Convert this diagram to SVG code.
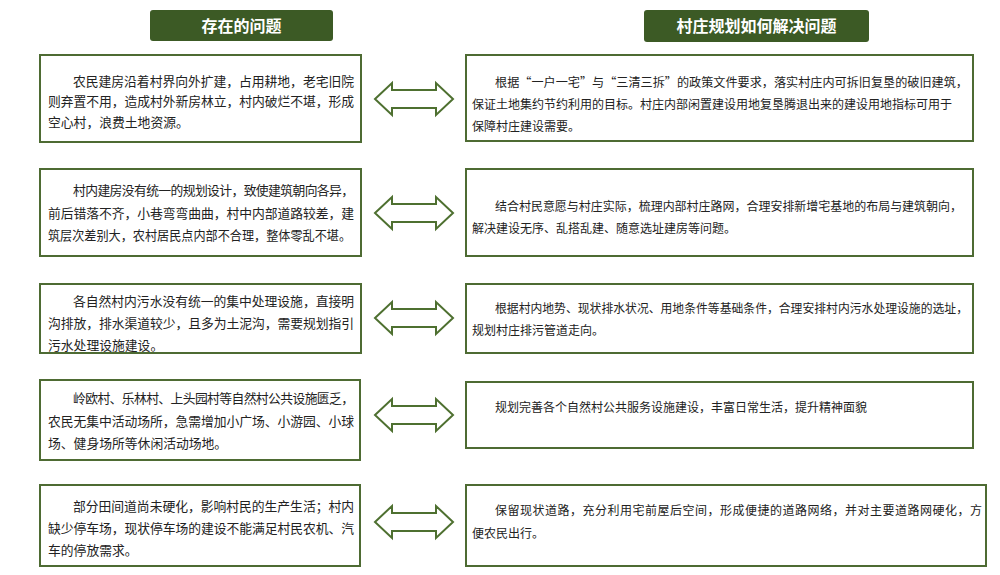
<svg xmlns="http://www.w3.org/2000/svg" xmlns:xlink="http://www.w3.org/1999/xlink" width="1000" height="575" viewBox="0 0 1000 575">
<style>
.hdr{fill:#3c5a25}
.htxt{fill:#ffffff;font-family:"Noto Sans CJK SC","Noto Sans",sans-serif;font-size:16px;font-weight:bold;text-anchor:middle}
.box{fill:#ffffff;stroke:#4e6b33;stroke-width:2}
.lt{fill:#222222;font-family:"Noto Sans CJK SC","Noto Sans",sans-serif;font-size:12.8px}
.rt{fill:#222222;font-family:"Noto Sans CJK SC","Noto Sans",sans-serif;font-size:12px}
.arr{fill:#ffffff;stroke:#4e7030;stroke-width:2;stroke-linejoin:miter}
</style>
<defs>
<path id="dblarrow" d="M375,0 L392,-16 L392,-9 L436,-9 L436,-16 L453,0 L436,16 L436,9 L392,9 L392,16 Z"/>
</defs>
<rect width="1000" height="575" fill="#ffffff"/>

<g id="header-left">
<rect class="hdr" x="150" y="10" width="183" height="31" rx="3"/>
<text class="htxt" x="241.5" y="31.5">存在的问题</text>
</g>
<g id="header-right">
<rect class="hdr" x="644" y="10" width="225" height="32" rx="3"/>
<text class="htxt" x="756.5" y="32">村庄规划如何解决问题</text>
</g>

<g id="problem-1">
<rect class="box" x="40" y="55" width="321" height="87"/>
<text class="lt" x="73" y="86" textLength="281" lengthAdjust="spacing">农民建房沿着村界向外扩建，占用耕地，老宅旧院</text>
<text class="lt" x="48" y="106" textLength="306" lengthAdjust="spacing">则弃置不用，造成村外新房林立，村内破烂不堪，形成</text>
<text class="lt" x="48" y="127">空心村，浪费土地资源。</text>
</g>
<g id="problem-2">
<rect class="box" x="40" y="169" width="321" height="87"/>
<text class="lt" x="73" y="195" textLength="281" lengthAdjust="spacing">村内建房没有统一的规划设计，致使建筑朝向各异，</text>
<text class="lt" x="48" y="218" textLength="306" lengthAdjust="spacing">前后错落不齐，小巷弯弯曲曲，村中内部道路较差，建</text>
<text class="lt" x="48" y="240" textLength="303" lengthAdjust="spacingAndGlyphs">筑层次差别大，农村居民点内部不合理，整体零乱不堪。</text>
</g>
<g id="problem-3">
<rect class="box" x="40" y="284" width="321" height="69"/>
<text class="lt" x="73" y="306" textLength="281" lengthAdjust="spacing">各自然村内污水没有统一的集中处理设施，直接明</text>
<text class="lt" x="48" y="328" textLength="306" lengthAdjust="spacing">沟排放，排水渠道较少，且多为土泥沟，需要规划指引</text>
<text class="lt" x="48" y="350">污水处理设施建设。</text>
</g>
<g id="problem-4">
<rect class="box" x="40" y="380" width="320" height="80"/>
<text class="lt" x="73" y="403" textLength="281" lengthAdjust="spacing">岭欧村、乐林村、上头园村等自然村公共设施匮乏，</text>
<text class="lt" x="48" y="426" textLength="306" lengthAdjust="spacing">农民无集中活动场所，急需增加小广场、小游园、小球</text>
<text class="lt" x="48" y="448">场、健身场所等休闲活动场地。</text>
</g>
<g id="problem-5">
<rect class="box" x="40" y="485" width="320" height="81"/>
<text class="lt" x="73" y="511" textLength="281" lengthAdjust="spacing">部分田间道尚未硬化，影响村民的生产生活；村内</text>
<text class="lt" x="48" y="533" textLength="306" lengthAdjust="spacing">缺少停车场，现状停车场的建设不能满足村民农机、汽</text>
<text class="lt" x="48" y="555">车的停放需求。</text>
</g>

<g id="solution-1">
<rect class="box" x="466" y="55" width="507" height="86"/>
<text class="rt" x="495" y="87" textLength="473" lengthAdjust="spacingAndGlyphs">根据“一户一宅”与“三清三拆”的政策文件要求，落实村庄内可拆旧复垦的破旧建筑，</text>
<text class="rt" x="472" y="109" textLength="480" lengthAdjust="spacingAndGlyphs">保证土地集约节约利用的目标。村庄内部闲置建设用地复垦腾退出来的建设用地指标可用于</text>
<text class="rt" x="472" y="131">保障村庄建设需要。</text>
</g>
<g id="solution-2">
<rect class="box" x="466" y="169" width="507" height="87"/>
<text class="rt" x="495" y="211" textLength="467" lengthAdjust="spacingAndGlyphs">结合村民意愿与村庄实际，梳理内部村庄路网，合理安排新增宅基地的布局与建筑朝向，</text>
<text class="rt" x="472" y="233">解决建设无序、乱搭乱建、随意选址建房等问题。</text>
</g>
<g id="solution-3">
<rect class="box" x="466" y="284" width="507" height="69"/>
<text class="rt" x="495" y="312.5" textLength="473" lengthAdjust="spacingAndGlyphs">根据村内地势、现状排水状况、用地条件等基础条件，合理安排村内污水处理设施的选址，</text>
<text class="rt" x="472" y="335">规划村庄排污管道走向。</text>
</g>
<g id="solution-4">
<rect class="box" x="466" y="382" width="507" height="66"/>
<text class="rt" x="495" y="411.5">规划完善各个自然村公共服务设施建设，丰富日常生活，提升精神面貌</text>
</g>
<g id="solution-5">
<rect class="box" x="466" y="485" width="520" height="81"/>
<text class="rt" x="495" y="514.5" textLength="487" lengthAdjust="spacing">保留现状道路，充分利用宅前屋后空间，形成便捷的道路网络，并对主要道路网硬化，方</text>
<text class="rt" x="472" y="537.5">便农民出行。</text>
</g>

<g id="connectors">
<use xlink:href="#dblarrow" class="arr" transform="translate(0,99)"/>
<use xlink:href="#dblarrow" class="arr" transform="translate(0,213)"/>
<use xlink:href="#dblarrow" class="arr" transform="translate(0,318)"/>
<use xlink:href="#dblarrow" class="arr" transform="translate(0,415)"/>
<use xlink:href="#dblarrow" class="arr" transform="translate(0,522)"/>
</g>
</svg>
